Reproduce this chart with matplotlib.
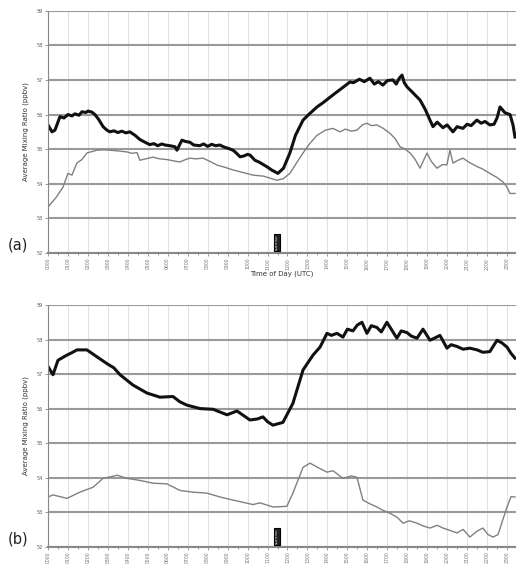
import matplotlib
matplotlib.use("Agg")
import matplotlib.pyplot as plt
import numpy as np

# ---- data (hours UTC, mixing ratio ppbv) ----
a_thick_t = [0.0, 0.2, 0.35, 0.6, 0.8, 1.0, 1.2, 1.35, 1.55, 1.7, 1.9, 2.0, 2.2, 2.35, 2.55, 2.76, 2.95, 3.1, 3.3, 3.5,
             3.7, 3.9, 4.1, 4.36, 4.6, 4.86, 5.1, 5.3, 5.5, 5.7, 5.86, 6.1, 6.36, 6.46, 6.71, 6.9, 7.11, 7.3, 7.6, 7.8,
             8.0, 8.2, 8.4, 8.6, 8.87, 9.05, 9.27, 9.45, 9.62, 9.8, 10.0, 10.12, 10.37, 10.6, 10.8, 11.0, 11.2, 11.52,
             11.8, 12.12, 12.4, 12.78, 13.1, 13.48, 13.8, 14.13, 14.4, 14.7, 15.13, 15.3, 15.6, 15.85, 16.13, 16.35,
             16.55, 16.78, 17.0, 17.28, 17.45, 17.6, 17.74, 17.85, 17.99, 18.3, 18.64, 18.9, 19.14, 19.29, 19.5, 19.79,
             20.0, 20.29, 20.5, 20.79, 21.0, 21.2, 21.49, 21.7, 21.9, 22.14, 22.35, 22.5, 22.65, 22.9, 23.15, 23.3, 23.4]
a_thick_v = [55.70, 55.50, 55.55, 55.94, 55.90, 56.00, 55.96, 56.02, 55.98, 56.08, 56.06, 56.10, 56.07, 56.00, 55.85, 55.65, 55.55, 55.50, 55.53, 55.48,
             55.52, 55.47, 55.50, 55.40, 55.28, 55.20, 55.13, 55.16, 55.10, 55.15, 55.12, 55.10, 55.07, 54.97, 55.26, 55.22, 55.20, 55.12, 55.10, 55.15,
             55.08, 55.14, 55.10, 55.12, 55.05, 55.02, 54.97, 54.88, 54.78, 54.80, 54.85, 54.83, 54.68, 54.62, 54.55, 54.48, 54.40, 54.30,
             54.45, 54.89, 55.40, 55.84, 56.02, 56.22, 56.35, 56.50, 56.62, 56.75, 56.94, 56.92, 57.02, 56.95, 57.05, 56.88,
             56.95, 56.85, 56.98, 57.00, 56.88, 57.05, 57.14, 56.92, 56.80, 56.62, 56.42, 56.15, 55.84, 55.65, 55.78, 55.62,
             55.70, 55.50, 55.65, 55.60, 55.72, 55.68, 55.84, 55.75, 55.80, 55.70, 55.72, 55.90, 56.22, 56.05, 56.00, 55.70, 55.35]

a_thin_t = [0.0, 0.4, 0.75, 1.0, 1.2, 1.45, 1.7, 1.95, 2.2, 2.45, 2.8, 3.1, 3.5, 3.96, 4.2, 4.46, 4.6, 4.9, 5.26, 5.6,
            5.96, 6.3, 6.61, 6.9, 7.11, 7.4, 7.77, 8.1, 8.47, 8.9, 9.27, 9.8, 10.27, 10.8, 11.2, 11.47, 11.8, 12.12,
            12.45, 12.78, 13.1, 13.48, 13.9, 14.28, 14.63, 14.9, 15.2, 15.48, 15.75, 15.98, 16.2, 16.48, 16.8, 17.13,
            17.4, 17.64, 17.9, 18.14, 18.4, 18.64, 18.99, 19.2, 19.49, 19.75, 19.99, 20.14, 20.29, 20.55, 20.79, 21.1,
            21.49, 21.8, 22.14, 22.5, 22.8, 23.0, 23.15, 23.4]
a_thin_v = [53.33, 53.60, 53.90, 54.30, 54.25, 54.60, 54.70, 54.89, 54.93, 54.97, 54.98, 54.97, 54.95, 54.92, 54.88, 54.90, 54.68, 54.72, 54.77, 54.72,
            54.70, 54.66, 54.63, 54.70, 54.74, 54.72, 54.74, 54.65, 54.54, 54.47, 54.40, 54.32, 54.25, 54.22, 54.15, 54.10, 54.15, 54.30,
            54.60, 54.89, 55.15, 55.40, 55.55, 55.60, 55.50, 55.58, 55.52, 55.55, 55.70, 55.75, 55.68, 55.70, 55.60, 55.46,
            55.30, 55.07, 55.00, 54.89, 54.70, 54.45, 54.89, 54.65, 54.45, 54.55, 54.55, 54.97, 54.60, 54.68, 54.74, 54.62,
            54.50, 54.42, 54.30, 54.18, 54.05, 53.90, 53.72, 53.72]

b_thick_t = [0.0, 0.25, 0.5, 0.95, 1.2, 1.45, 1.95, 2.45, 2.96, 3.3, 3.61, 4.26, 4.96, 5.61, 6.26, 6.6, 6.96, 7.62, 8.27, 8.97,
             9.47, 10.12, 10.5, 10.77, 11.0, 11.27, 11.77, 12.27, 12.78, 13.28, 13.63, 13.98, 14.2, 14.48, 14.78, 15.0,
             15.28, 15.5, 15.73, 15.98, 16.2, 16.48, 16.7, 16.98, 17.2, 17.48, 17.7, 17.99, 18.2, 18.49, 18.79, 19.14,
             19.4, 19.64, 19.99, 20.2, 20.49, 20.8, 21.14, 21.5, 21.79, 22.14, 22.5, 22.75, 23.0, 23.2, 23.4]
b_thick_v = [57.22, 56.98, 57.40, 57.55, 57.62, 57.70, 57.70, 57.50, 57.30, 57.18, 56.98, 56.68, 56.45, 56.33, 56.35, 56.20, 56.10, 56.00, 55.98, 55.82,
             55.93, 55.67, 55.70, 55.76, 55.62, 55.52, 55.60, 56.15, 57.12, 57.55, 57.78, 58.18, 58.12, 58.18, 58.07, 58.30,
             58.25, 58.42, 58.50, 58.18, 58.40, 58.35, 58.22, 58.50, 58.30, 58.04, 58.25, 58.20, 58.10, 58.04, 58.30, 57.98,
             58.05, 58.12, 57.75, 57.85, 57.80, 57.72, 57.75, 57.70, 57.63, 57.65, 57.98, 57.90, 57.78, 57.60, 57.46]

b_thin_t = [0.0, 0.25, 0.6, 0.95, 1.6, 2.25, 2.76, 3.1, 3.46, 3.96, 4.6, 5.26, 5.96, 6.61, 7.26, 7.97, 8.62, 9.27, 9.97, 10.27,
            10.62, 11.27, 11.97, 12.27, 12.78, 13.13, 13.5, 13.98, 14.28, 14.78, 15.2, 15.48, 15.78, 16.1, 16.48, 16.8,
            17.13, 17.5, 17.79, 18.1, 18.49, 18.8, 19.14, 19.5, 19.79, 20.1, 20.49, 20.8, 21.14, 21.5, 21.79, 22.05,
            22.3, 22.55, 22.8, 23.0, 23.2, 23.4]
b_thin_v = [53.44, 53.50, 53.45, 53.40, 53.58, 53.72, 53.98, 54.02, 54.07, 53.98, 53.92, 53.84, 53.82, 53.63, 53.58, 53.55, 53.44, 53.35, 53.26, 53.22,
            53.27, 53.15, 53.17, 53.55, 54.30, 54.42, 54.30, 54.16, 54.20, 53.98, 54.05, 54.01, 53.35, 53.25, 53.15, 53.05,
            52.97, 52.85, 52.68, 52.75, 52.68, 52.60, 52.54, 52.62, 52.54, 52.48, 52.40, 52.50, 52.28, 52.45, 52.54, 52.35,
            52.28, 52.35, 52.80, 53.15, 53.45, 53.44]

y_ticks = [52, 53, 54, 55, 56, 57, 58, 59]
x_tick_labels = ["%02d00" % h for h in range(24)]
sunrise_hour = 11.47

fig = plt.figure(figsize=(5.16, 5.71), dpi=100)

def panel(rect, thick_t, thick_v, thin_t, thin_v, tag, xlabel):
    ax = fig.add_axes(rect)
    ax.set_xlim(0, 23.45)
    ax.set_ylim(52, 59)
    ax.set_yticks(y_ticks)
    ax.set_yticklabels([str(v) for v in y_ticks], fontsize=3.5, color="#555555")
    ax.set_xticks(range(24))
    ax.set_xticks(np.arange(0.5, 23.5, 1.0), minor=True)
    ax.set_xticklabels(x_tick_labels, rotation=90, fontsize=3.3, color="#777777")
    ax.grid(axis="y", color="#9a9a9a", lw=1.5)
    ax.grid(axis="x", color="#e2e2e2", lw=0.8)
    ax.set_axisbelow(True)
    for s in ["top", "right"]:
        ax.spines[s].set_visible(False)
    ax.spines["left"].set_color("#888888")
    ax.spines["bottom"].set_color("#888888")
    ax.spines["bottom"].set_linewidth(1.5)
    ax.tick_params(axis="both", which="both", length=2, width=0.6, color="#888888", pad=1.5)
    ax.tick_params(axis="x", which="minor", length=1.5)
    ax.plot(thin_t, thin_v, color="#808080", lw=1.0)
    ax.plot(thick_t, thick_v, color="#111111", lw=2.2)
    ax.set_ylabel("Average Mixing Ratio (ppbv)", fontsize=5, color="#333333", labelpad=6)
    if xlabel:
        ax.set_xlabel(xlabel, fontsize=5, color="#333333", labelpad=0.5)
    ax.text(sunrise_hour, 52.08, "sunrise", rotation=90, fontsize=3.2, ha="center", va="bottom",
            color="#dddddd", bbox=dict(boxstyle="square,pad=0.15", fc="#222222", ec="black", lw=0.8))
    fig.text(8 / 516, rect[1] + 0.0, tag, fontsize=10.5, color="#222222", ha="left", va="bottom")
    return ax

panel([48 / 516, 1 - 253 / 571, 468 / 516, 242.3 / 571], a_thick_t, a_thick_v, a_thin_t, a_thin_v,
      "(a)", "Time of Day (UTC)")
panel([48 / 516, 1 - 546.7 / 571, 468 / 516, 241.7 / 571], b_thick_t, b_thick_v, b_thin_t, b_thin_v,
      "(b)", None)

fig.savefig("out.png", dpi=100)
